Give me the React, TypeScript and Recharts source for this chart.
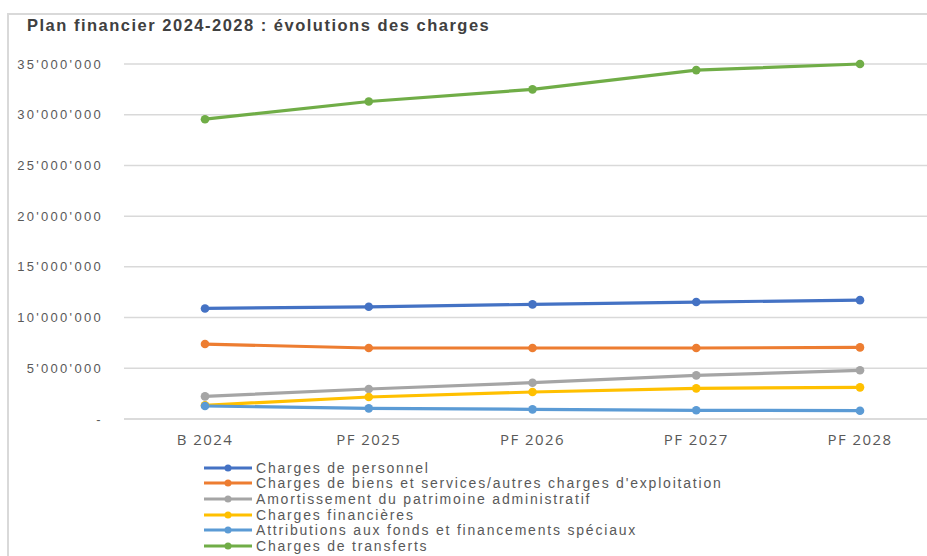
import React from 'react';
import { CartesianGrid, Legend, Line, LineChart, XAxis, YAxis } from 'recharts';

const YEARS = ['B 2024', 'PF 2025', 'PF 2026', 'PF 2027', 'PF 2028'];
const PERSONNEL = [10900000, 11060000, 11300000, 11530000, 11720000];
const BIENS_SERVICES = [7390000, 7000000, 7000000, 7000000, 7060000];
const AMORTISSEMENT = [2230000, 2960000, 3580000, 4300000, 4800000];
const FINANCIERES = [1350000, 2170000, 2660000, 3020000, 3120000];
const ATTRIBUTIONS = [1280000, 1050000, 950000, 860000, 820000];
const TRANSFERTS = [29560000, 31300000, 32500000, 34400000, 35000000];
const Y_TICKS = [0, 5000000, 10000000, 15000000, 20000000, 25000000, 30000000, 35000000];

const SERIES = [
  { name: 'Charges de personnel', values: PERSONNEL, color: '#4472C4' },
  { name: "Charges de biens et services/autres charges d'exploitation", values: BIENS_SERVICES, color: '#ED7D31' },
  { name: 'Amortissement du patrimoine administratif', values: AMORTISSEMENT, color: '#A5A5A5' },
  { name: 'Charges financières', values: FINANCIERES, color: '#FFC000' },
  { name: 'Attributions aux fonds et financements spéciaux', values: ATTRIBUTIONS, color: '#5B9BD5' },
  { name: 'Charges de transferts', values: TRANSFERTS, color: '#70AD47' },
];

const data = YEARS.map((year, i) => {
  const row: Record<string, string | number> = { year };
  SERIES.forEach((s) => {
    row[s.name] = s.values[i];
  });
  return row;
});

const formatTick = (v: number) =>
  v === 0 ? '-' : Math.round(v).toString().replace(/\B(?=(\d{3})+(?!\d))/g, "'");

// legend keeps the series order (recharts sorts the payload by name)
function LegendList() {
  return (
    <div>
      {SERIES.map((s) => (
        <div
          key={s.name}
          style={{
            display: 'flex',
            alignItems: 'center',
            height: 15.6,
            fontFamily: 'Arial, "Liberation Sans"',
            fontSize: 14,
            color: '#595959',
            letterSpacing: 1.8,
            whiteSpace: 'nowrap',
          }}
        >
          <svg width={52} height={10} style={{ marginRight: 1 }}>
            <line x1={1} y1={5} x2={49} y2={5} stroke={s.color} strokeWidth={3} />
            <circle cx={25} cy={5} r={3.5} fill={s.color} />
          </svg>
          <span>{s.name}</span>
        </div>
      ))}
    </div>
  );
}

export default function App() {
  return (
    <div style={{ position: 'absolute', left: 0, top: 0, width: 927, height: 556, overflow: 'hidden', background: '#fff' }}>
      <div
        style={{ position: 'absolute', left: 7, top: 13, width: 940, height: 560, borderTop: '2px solid #d9d9d9', borderLeft: '2px solid #d9d9d9' }}
      />
      <div
        style={{
          position: 'absolute',
          left: 27,
          top: 16,
          fontFamily: 'Arial, "Liberation Sans"',
          fontWeight: 'bold',
          fontSize: 16.5,
          letterSpacing: 1.5,
          color: '#404040',
          whiteSpace: 'nowrap',
        }}
      >
        Plan financier 2024-2028 : évolutions des charges
      </div>
      <div style={{ position: 'absolute', left: 0, top: 0 }}>
        <LineChart width={945} height={556} data={data} margin={{ top: 64, right: 4, bottom: 107, left: 0 }}>
          <CartesianGrid vertical={false} stroke="#d9d9d9" strokeWidth={1.5} />
          <XAxis
            dataKey="year"
            padding={{ left: 81, right: 81 }}
            axisLine={{ stroke: '#d9d9d9', strokeWidth: 1.5 }}
            tickLine={false}
            tickMargin={9}
            height={30}
            tick={{ fill: '#595959', fontSize: 15, fontFamily: '"Open Sans"', letterSpacing: 1.4 }}
          />
          <YAxis
            width={124}
            domain={[0, 35000000]}
            ticks={Y_TICKS}
            tickFormatter={formatTick}
            axisLine={false}
            tickLine={false}
            tickMargin={15}
            tick={{ fill: '#595959', fontSize: 13, fontFamily: 'Arial, "Liberation Sans"', letterSpacing: 2.3 }}
          />
          <Legend
            layout="horizontal"
            verticalAlign="middle"
            align="center"
            content={<LegendList />}
            wrapperStyle={{ left: 203, top: 460, width: 700, height: 100 }}
          />
          {SERIES.map((s) => (
            <Line
              key={s.name}
              dataKey={s.name}
              stroke={s.color}
              strokeWidth={3.2}
              dot={{ r: 4.3, fill: s.color, stroke: s.color, strokeWidth: 0 }}
              activeDot={false}
              isAnimationActive={false}
            />
          ))}
        </LineChart>
      </div>
    </div>
  );
}
